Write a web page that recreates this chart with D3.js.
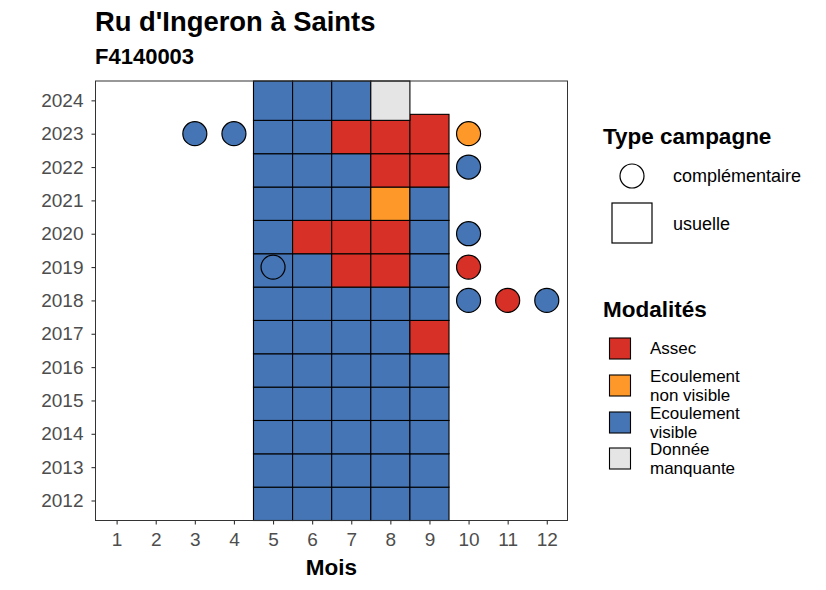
<!DOCTYPE html>
<html>
<head>
<meta charset="utf-8">
<script src="https://cdn.jsdelivr.net/npm/d3@7"></script>
<style>
  body { margin: 0; background: #fff; }
  text { font-family: "Liberation Sans", Arial, sans-serif; }
</style>
</head>
<body>
<div class="container"></div>
<script>
const width = 826;
const height = 590;

// data
const months = [1, 2, 3, 4, 5, 6, 7, 8, 9, 10, 11, 12];
const years = [2012, 2013, 2014, 2015, 2016, 2017, 2018, 2019, 2020, 2021, 2022, 2023, 2024];
const modalites = ["Assec", "Ecoulement\nnon visible", "Ecoulement\nvisible", "Donnée\nmanquante"];
const colors = ["#d73027", "#fe9929", "#4575b4", "#e5e5e5"];

// usual campaign: months 5..9, code index into modalites (A=0, N=1, V=2, M=3, "-"=none)
const usualMonths = [5, 6, 7, 8, 9];
const usualRows = {
    2024: "VVVM-",
    2023: "VVAAA",
    2022: "VVVAA",
    2021: "VVVNV",
    2020: "VAAAV",
    2019: "VVAAV",
    2018: "VVVVV",
    2017: "VVVVA",
    2016: "VVVVV",
    2015: "VVVVV",
    2014: "VVVVV",
    2013: "VVVVV",
    2012: "VVVVV"
};
// complementary campaign
const compYears  = [2023, 2023, 2023, 2022, 2020, 2019, 2019, 2018, 2018, 2018];
const compMonths = [3, 4, 10, 10, 10, 5, 10, 10, 11, 12];
const compCodes  = ["V", "V", "N", "V", "V", "-", "A", "V", "A", "V"];

const codeIdx = { A: 0, N: 1, V: 2, M: 3 };

const tiles = [];
years.forEach(yr => {
    usualRows[yr].split("").forEach((c, i) => {
        if (c !== "-") tiles.push({ year: yr, month: usualMonths[i], code: codeIdx[c] });
    });
});
// top tile of each column reaches a bit higher
usualMonths.forEach(m => {
    const col = tiles.filter(t => t.month === m);
    const top = d3.max(col, t => t.year);
    col.forEach(t => t.top = t.year === top ? t.year + 0.58 : t.year + 0.4);
});
const points = compYears.map((yr, i) => ({ year: yr, month: compMonths[i], code: codeIdx[compCodes[i]] }));

const svg = d3.select(".container")
    .append("svg")
    .attr("xmlns", "http://www.w3.org/2000/svg")
    .attr("width", width)
    .attr("height", height)
    .attr("viewBox", `0 0 ${width} ${height}`);

svg.append("rect").attr("width", width).attr("height", height).attr("fill", "#fff");

const panel = { left: 95.5, right: 567.5, top: 81, bottom: 520.5 };

const x = d3.scaleLinear().domain([0.46, 12.53]).range([panel.left, panel.right]);
const y = d3.scaleLinear().domain([2011.4, 2024.58]).range([panel.bottom, panel.top]);

// titles
svg.append("text").attr("x", 95).attr("y", 31)
    .attr("font-size", 27.4).attr("font-weight", "bold").attr("fill", "#000")
    .text("Ru d'Ingeron à Saints");
svg.append("text").attr("x", 95).attr("y", 64)
    .attr("font-size", 22).attr("font-weight", "bold").attr("fill", "#000")
    .text("F4140003");

// tiles
svg.append("g").selectAll("rect").data(tiles).join("rect")
    .attr("x", d => x(d.month - 0.5))
    .attr("width", d => x(d.month + 0.5) - x(d.month - 0.5))
    .attr("y", d => y(d.top))
    .attr("height", d => y(d.year - 0.6) - y(d.top))
    .attr("fill", d => colors[d.code])
    .attr("stroke", "#000")
    .attr("stroke-width", 1.1);

// points
svg.append("g").selectAll("circle").data(points).join("circle")
    .attr("cx", d => x(d.month))
    .attr("cy", d => y(d.year))
    .attr("r", 12)
    .attr("fill", d => d.code === undefined ? "none" : colors[d.code])
    .attr("stroke", "#000")
    .attr("stroke-width", 1.2);

// panel border
svg.append("rect")
    .attr("x", panel.left).attr("y", panel.top)
    .attr("width", panel.right - panel.left).attr("height", panel.bottom - panel.top)
    .attr("fill", "none").attr("stroke", "#333").attr("stroke-width", 1);

// axes
const xAxis = svg.append("g")
    .attr("transform", `translate(0,${panel.bottom})`)
    .call(d3.axisBottom(x).tickValues(months).tickSize(4).tickPadding(8).tickFormat(d3.format("d")));
const yAxis = svg.append("g")
    .attr("transform", `translate(${panel.left},0)`)
    .call(d3.axisLeft(y).tickValues(years).tickSize(4).tickPadding(8).tickFormat(d3.format("d")));
[xAxis, yAxis].forEach(a => {
    a.select(".domain").remove();
    a.selectAll(".tick line").attr("stroke", "#333").attr("stroke-width", 1.1);
    a.selectAll(".tick text").attr("fill", "#4d4d4d").attr("font-size", 19)
        .attr("font-family", "Liberation Sans, Arial, sans-serif");
});

svg.append("text").attr("x", (panel.left + panel.right) / 2).attr("y", 575)
    .attr("text-anchor", "middle").attr("font-size", 22.5).attr("font-weight", "bold")
    .text("Mois");

// legend: Type campagne
svg.append("text").attr("x", 603).attr("y", 144)
    .attr("font-size", 22.5).attr("font-weight", "bold").text("Type campagne");
svg.append("circle").attr("cx", 632).attr("cy", 176).attr("r", 12)
    .attr("fill", "#fff").attr("stroke", "#000").attr("stroke-width", 1.2);
svg.append("text").attr("x", 673).attr("y", 176).attr("dy", "0.35em")
    .attr("font-size", 18).text("complémentaire");
svg.append("rect").attr("x", 612).attr("y", 203).attr("width", 40).attr("height", 40)
    .attr("fill", "#fff").attr("stroke", "#000").attr("stroke-width", 1.2);
svg.append("text").attr("x", 673).attr("y", 224).attr("dy", "0.35em")
    .attr("font-size", 18).text("usuelle");

// legend: Modalités
svg.append("text").attr("x", 603).attr("y", 317)
    .attr("font-size", 22.5).attr("font-weight", "bold").text("Modalités");
const keyY = [348.5, 385.5, 422.5, 458.5];
const lg = svg.append("g").selectAll("g").data(modalites).join("g")
    .attr("transform", (d, i) => `translate(0,${keyY[i]})`);
lg.append("rect").attr("x", 609.5).attr("y", -10.5).attr("width", 21).attr("height", 21)
    .attr("fill", (d, i) => colors[i]).attr("stroke", "#000").attr("stroke-width", 1.1);
lg.each(function(d) {
    const lines = d.split("\n");
    const t = d3.select(this).append("text").attr("x", 650).attr("font-size", 17);
    lines.forEach((l, j) => {
        t.append("tspan").attr("x", 650)
            .attr("y", lines.length === 1 ? 0 : (j === 0 ? -9 : 9.5))
            .attr("dy", "0.35em").text(l);
    });
});
</script>
</body>
</html>
